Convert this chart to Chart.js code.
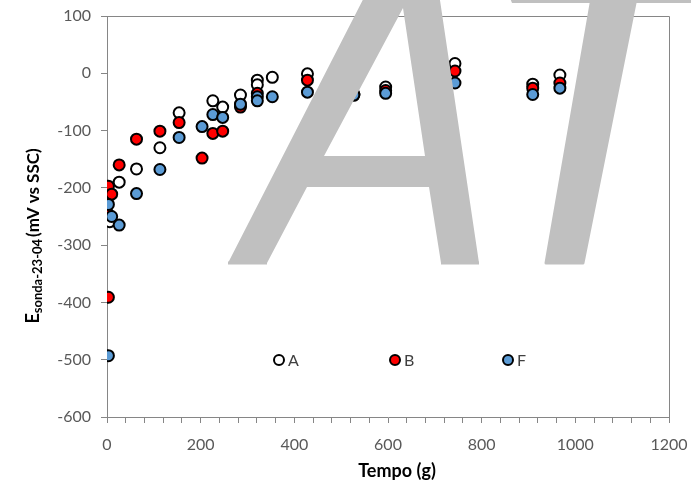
<!DOCTYPE html>
<html>
<head>
<meta charset="utf-8">
<script src="https://cdn.jsdelivr.net/npm/chart.js@4.4.1/dist/chart.umd.min.js"></script>
<style>
  body { margin: 0; background: #fff; }
  canvas { display: block; }
</style>
</head>
<body>
<canvas id="chart" width="691" height="488"></canvas>
<script>
// tempo (g) e potenziale (mV vs SSC)
var tempoA = [0, 6, 26, 63, 113, 154, 226, 247, 285, 321, 321, 353, 428, 527, 595, 743, 909, 967];
var valA = [-222, -259, -190, -167, -130, -69, -48, -59, -38, -12, -20, -7, -1, -36, -24, 17, -19, -3];

var tempoB = [1, 3, 10, 3, 26, 63, 113, 154, 203, 226, 247, 285, 321, 428, 527, 595, 743, 909, 967];
var valB = [-244, -197, -211, -391, -160, -115, -101, -86, -148, -105, -101, -59, -35, -12, -38, -30, 4, -26, -17];

var tempoF = [3, 3, 10, 26, 63, 113, 154, 203, 226, 247, 285, 321, 321, 353, 428, 527, 595, 743, 909, 967];
var valF = [-493, -229, -250, -265, -210, -168, -112, -93, -72, -77, -54, -41, -48, -41, -33, -38, -35, -17, -37, -26];

var seriesNames = ['A', 'B', 'F'];
var xTicks = [0, 200, 400, 600, 800, 1000, 1200];
var yTicks = [-600, -500, -400, -300, -200, -100, 0, 100];

function toPoints(xs, ys) {
    var pts = [];
    for (var i = 0; i < xs.length; i++) {
        pts.push({ x: xs[i], y: ys[i] });
    }
    return pts;
}

var axisColor = '#868686';
var textColor = '#595959';
var fontFam = 'Lato, "Open Sans", sans-serif';

// bordo superiore e destro dell'area del grafico
var framePlugin = {
    id: 'frame',
    beforeDatasetsDraw: function(chart) {
        var a = chart.chartArea, ctx = chart.ctx;
        ctx.save();
        ctx.strokeStyle = axisColor;
        ctx.lineWidth = 1;
        ctx.beginPath();
        ctx.moveTo(a.left, a.top + 0.5);
        ctx.lineTo(a.right + 0.5, a.top + 0.5);
        ctx.lineTo(a.right + 0.5, a.bottom);
        ctx.stroke();
        ctx.restore();
    }
};

// titoli degli assi e legenda
var labelsPlugin = {
    id: 'labels',
    afterDatasetsDraw: function(chart) {
        var ctx = chart.ctx;
        ctx.save();
        ctx.fillStyle = '#000';
        ctx.font = 'bold 18px ' + fontFam;
        ctx.textAlign = 'center';
        ctx.textBaseline = 'alphabetic';
        ctx.fillText('Tempo (g)', 397, 477);

        // titolo asse y con pedice
        ctx.translate(39, 236);
        ctx.rotate(-Math.PI / 2);
        ctx.textAlign = 'left';
        var fBig = 'bold 18px ' + fontFam;
        var fSub = 'bold 13px ' + fontFam;
        var fRest = 'bold 17px ' + fontFam;
        ctx.font = fBig;
        var w1 = ctx.measureText('E').width;
        ctx.font = fSub;
        var w2 = ctx.measureText('sonda-23-04').width;
        ctx.font = fRest;
        var w3 = ctx.measureText('(mV vs SSC)').width;
        var x0 = -(w1 + w2 + w3 + 2) / 2;
        ctx.font = fBig;
        ctx.fillText('E', x0, 0);
        ctx.font = fSub;
        ctx.fillText('sonda-23-04', x0 + w1, 3);
        ctx.font = fRest;
        ctx.fillText('(mV vs SSC)', x0 + w1 + w2 + 2, 0);
        ctx.restore();

        // legenda interna
        var legX = [279, 395, 508];
        ctx.save();
        ctx.font = '16px ' + fontFam;
        ctx.textBaseline = 'middle';
        ctx.textAlign = 'left';
        chart.data.datasets.forEach(function(ds, i) {
            ctx.beginPath();
            ctx.arc(legX[i], 360, 5, 0, Math.PI * 2);
            ctx.fillStyle = ds.backgroundColor;
            ctx.fill();
            ctx.lineWidth = 2;
            ctx.strokeStyle = '#000';
            ctx.stroke();
            ctx.fillStyle = '#404040';
            ctx.fillText(ds.label, legX[i] + 9, 361);
        });
        ctx.restore();
    }
};

// filigrana "A7" sopra il grafico
var watermarkPlugin = {
    id: 'watermark',
    afterDraw: function(chart) {
        var ctx = chart.ctx;
        ctx.save();
        ctx.fillStyle = '#c0c0c0';
        ctx.strokeStyle = '#c0c0c0';
        ctx.lineJoin = 'round';
        ctx.lineWidth = 3;
        ctx.beginPath();
        ctx.moveTo(228, 263);
        ctx.lineTo(373, -20);
        ctx.lineTo(437, -20);
        ctx.lineTo(479, 263);
        ctx.lineTo(441, 263);
        ctx.lineTo(429, 187);
        ctx.lineTo(307, 187);
        ctx.lineTo(267, 263);
        ctx.closePath();
        ctx.moveTo(403, 8);
        ctx.lineTo(324, 156);
        ctx.lineTo(425, 156);
        ctx.closePath();
        ctx.fill('evenodd');
        ctx.beginPath();
        ctx.moveTo(228, 263);
        ctx.lineTo(267, 263);
        ctx.moveTo(441, 263);
        ctx.lineTo(479, 263);
        ctx.stroke();

        ctx.beginPath();
        ctx.moveTo(592, -2);
        ctx.lineTo(636, -2);
        ctx.lineTo(583, 263);
        ctx.lineTo(546, 263);
        ctx.closePath();
        ctx.fill();
        ctx.stroke();
        ctx.beginPath();
        ctx.moveTo(510, -2);
        ctx.lineTo(691, -2);
        ctx.lineTo(691, 3);
        ctx.lineTo(512, 3);
        ctx.closePath();
        ctx.fill();
        ctx.restore();
    }
};

var ctx = document.getElementById('chart').getContext('2d');
var chart = new Chart(ctx, {
    type: 'scatter',
    data: {
        datasets: [{
            label: seriesNames[0],
            data: toPoints(tempoA, valA),
            backgroundColor: '#ffffff',
            borderColor: '#000000',
            borderWidth: 2,
            pointRadius: 5.5,
            order: 2
        }, {
            label: seriesNames[1],
            data: toPoints(tempoB, valB),
            backgroundColor: '#ff0000',
            borderColor: '#000000',
            borderWidth: 2,
            pointRadius: 5.5,
            order: 1
        }, {
            label: seriesNames[2],
            data: toPoints(tempoF, valF),
            backgroundColor: '#5b9bd5',
            borderColor: '#000000',
            borderWidth: 2,
            pointRadius: 5.5,
            order: 0
        }]
    },
    options: {
        responsive: false,
        animation: false,
        devicePixelRatio: 1,
        layout: { padding: { top: 16, right: 22, left: 0, bottom: 0 } },
        plugins: {
            legend: { display: false },
            tooltip: { enabled: false }
        },
        scales: {
            x: {
                type: 'linear',
                min: 0,
                max: 1200,
                afterFit: function(scale) {
                    scale.height = 71;
                    scale.paddingLeft = 0;
                    scale.paddingRight = 0;
                },
                afterBuildTicks: function(scale) {
                    var t = [];
                    for (var v = 0; v <= 1200; v += 40) t.push({ value: v });
                    scale.ticks = t;
                },
                ticks: {
                    autoSkip: false,
                    maxRotation: 0,
                    padding: 12,
                    color: textColor,
                    font: { family: fontFam, size: 16 },
                    callback: function(v) { return xTicks.indexOf(v) >= 0 ? String(v) : ''; }
                },
                grid: { drawOnChartArea: false, drawTicks: true, tickLength: 6, color: axisColor },
                border: { color: axisColor, width: 1 }
            },
            y: {
                min: -600,
                max: 100,
                afterFit: function(scale) {
                    scale.width = 107;
                    scale.paddingTop = 0;
                    scale.paddingBottom = 0;
                },
                afterBuildTicks: function(scale) {
                    scale.ticks = yTicks.map(function(v) { return { value: v }; });
                },
                ticks: {
                    padding: 10,
                    color: textColor,
                    font: { family: fontFam, size: 16 }
                },
                grid: { drawOnChartArea: false, drawTicks: true, tickLength: 6, color: axisColor },
                border: { color: axisColor, width: 1 }
            }
        }
    },
    plugins: [framePlugin, labelsPlugin, watermarkPlugin]
});
</script>
</body>
</html>
